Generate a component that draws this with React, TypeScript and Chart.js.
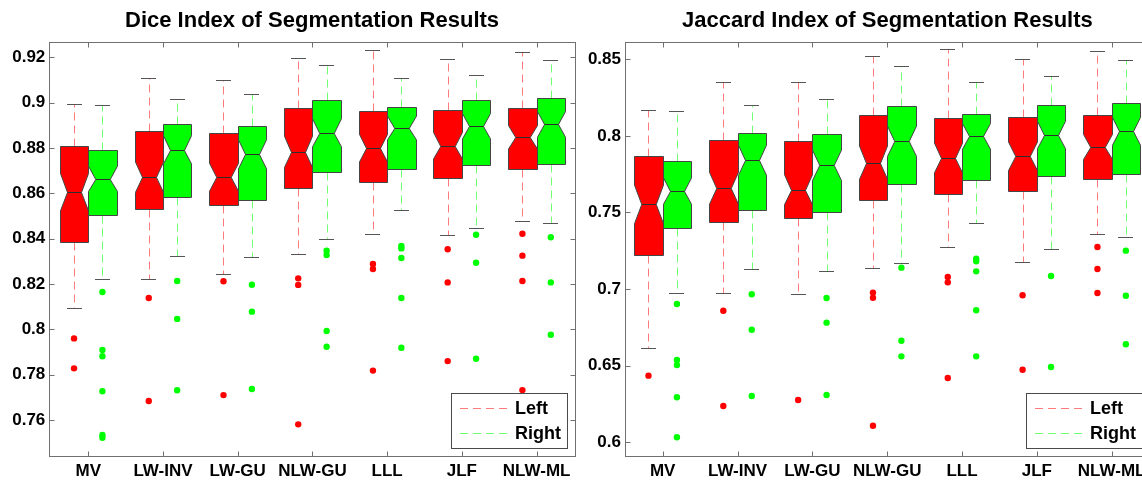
import React, { useEffect, useRef } from "react";
import { Chart, registerables } from "chart.js";

Chart.register(...registerables);

// ---------- data ----------
const categories = ["MV", "LW-INV", "LW-GU", "NLW-GU", "LLL", "JLF", "NLW-ML"];
const seriesNames = ["Left", "Right"];

const diceTicks = [0.76, 0.78, 0.8, 0.82, 0.84, 0.86, 0.88, 0.9, 0.92];
const jaccardTicks = [0.6, 0.65, 0.7, 0.75, 0.8, 0.85];

// Dice – Left
const diceLeftWhiskerHi = [0.8995, 0.9107, 0.9101, 0.9198, 0.9231, 0.9194, 0.9222];
const diceLeftQ3 = [0.8809, 0.8874, 0.8867, 0.8975, 0.8963, 0.8969, 0.8975];
const diceLeftMedian = [0.8605, 0.8671, 0.8671, 0.8783, 0.8799, 0.881, 0.8847];
const diceLeftQ1 = [0.8387, 0.8531, 0.8549, 0.8622, 0.865, 0.8666, 0.8709];
const diceLeftWhiskerLo = [0.8096, 0.8221, 0.8243, 0.8331, 0.8419, 0.8415, 0.8479];
const diceLeftOutliers = [
  [0.796, 0.7828],
  [0.8138, 0.7684],
  [0.8212, 0.771],
  [0.8225, 0.8196, 0.7581],
  [0.8288, 0.8266, 0.7818],
  [0.8353, 0.8207, 0.786],
  [0.8422, 0.8325, 0.8213, 0.7732],
];

// Dice – Right
const diceRightWhiskerHi = [0.899, 0.9017, 0.9038, 0.9167, 0.9107, 0.9123, 0.9189];
const diceRightQ3 = [0.8792, 0.8904, 0.8898, 0.9012, 0.8979, 0.9012, 0.9022];
const diceRightMedian = [0.8664, 0.8792, 0.8772, 0.8867, 0.8888, 0.8896, 0.8904];
const diceRightQ1 = [0.8504, 0.8585, 0.8569, 0.8693, 0.8709, 0.8725, 0.8731];
const diceRightWhiskerLo = [0.8221, 0.8325, 0.8318, 0.8397, 0.8526, 0.8446, 0.8468];
const diceRightOutliers = [
  [0.8165, 0.7909, 0.7881, 0.7727, 0.7534, 0.7522],
  [0.8213, 0.8046, 0.7731],
  [0.8197, 0.8078, 0.7737],
  [0.8347, 0.8328, 0.7993, 0.7923],
  [0.8368, 0.8357, 0.8315, 0.8138, 0.7919],
  [0.8417, 0.8294, 0.787],
  [0.8406, 0.8207, 0.7976],
];

// Jaccard – Left
const jacLeftWhiskerHi = [0.8171, 0.8354, 0.8354, 0.8522, 0.8567, 0.8504, 0.8552];
const jacLeftQ3 = [0.7871, 0.7973, 0.7965, 0.8138, 0.8115, 0.8123, 0.8138];
const jacLeftMedian = [0.7553, 0.7658, 0.7649, 0.7825, 0.7856, 0.7867, 0.7928];
const jacLeftQ1 = [0.7225, 0.7438, 0.7462, 0.758, 0.7619, 0.7642, 0.7717];
const jacLeftWhiskerLo = [0.6618, 0.6977, 0.6968, 0.7136, 0.7273, 0.7177, 0.7358];
const jacLeftOutliers = [
  [0.6435],
  [0.6859, 0.6237],
  [0.6276],
  [0.6977, 0.6944, 0.6108],
  [0.7079, 0.7044, 0.642],
  [0.696, 0.6474],
  [0.7275, 0.7131, 0.6975],
];

// Jaccard – Right
const jacRightWhiskerHi = [0.8163, 0.8204, 0.8243, 0.8458, 0.8352, 0.8391, 0.8495];
const jacRightQ3 = [0.7838, 0.8021, 0.8012, 0.8193, 0.8145, 0.82, 0.8217];
const jacRightMedian = [0.764, 0.7841, 0.7808, 0.7965, 0.7997, 0.8006, 0.803];
const jacRightQ1 = [0.7397, 0.7516, 0.7501, 0.7686, 0.7714, 0.774, 0.7751];
const jacRightWhiskerLo = [0.6977, 0.7129, 0.712, 0.7168, 0.743, 0.7262, 0.7342];
const jacRightOutliers = [
  [0.6903, 0.6537, 0.6505, 0.6294, 0.6033],
  [0.6966, 0.6735, 0.6302],
  [0.6942, 0.6781, 0.6309],
  [0.714, 0.6663, 0.6561],
  [0.7198, 0.7181, 0.7116, 0.6862, 0.6561],
  [0.7086, 0.6492],
  [0.7251, 0.6957, 0.664],
];

// number of subjects per group (used for the notch extent, as MATLAB does)
const sampleSize = 65;

// ---------- styles ----------
const FONT = '"Liberation Sans", Arial, Helvetica, sans-serif';
const BOX_FILL = ["#ff0000", "#00ff00"];
const WHISKER = ["#ff7a7a", "#70ff70"];
const EDGE = "#454545";
const CAP = "#555555";
const FRAME = "#707070";
const GROUP_OFFSET = [-0.19, 0.19];
const BOX_HALF = 0.19;
const CAP_HALF = 0.1;

type Series = {
  hi: number[];
  q3: number[];
  med: number[];
  q1: number[];
  lo: number[];
  out: number[][];
};

type Panel = {
  title: string;
  yTicks: number[];
  yMin: number;
  yMax: number;
  xMin: number;
  xMax: number;
  series: Series[];
  canvasLeft: number;
  canvasWidth: number;
  yWidth: number;
  padRight: number;
};

const panels: Panel[] = [
  {
    title: "Dice Index of Segmentation Results",
    yTicks: diceTicks,
    yMin: 0.74413,
    yMax: 0.92675,
    xMin: 0.479,
    xMax: 7.511,
    series: [
      { hi: diceLeftWhiskerHi, q3: diceLeftQ3, med: diceLeftMedian, q1: diceLeftQ1, lo: diceLeftWhiskerLo, out: diceLeftOutliers },
      { hi: diceRightWhiskerHi, q3: diceRightQ3, med: diceRightMedian, q1: diceRightQ1, lo: diceRightWhiskerLo, out: diceRightOutliers },
    ],
    canvasLeft: 0,
    canvasWidth: 578,
    yWidth: 49.3,
    padRight: 2,
  },
  {
    title: "Jaccard Index of Segmentation Results",
    yTicks: jaccardTicks,
    yMin: 0.59106,
    yMax: 0.86129,
    xMin: 0.496,
    xMax: 7.51,
    series: [
      { hi: jacLeftWhiskerHi, q3: jacLeftQ3, med: jacLeftMedian, q1: jacLeftQ1, lo: jacLeftWhiskerLo, out: jacLeftOutliers },
      { hi: jacRightWhiskerHi, q3: jacRightQ3, med: jacRightMedian, q1: jacRightQ1, lo: jacRightWhiskerLo, out: jacRightOutliers },
    ],
    canvasLeft: 578,
    canvasWidth: 600,
    yWidth: 47,
    padRight: 28.2,
  },
];

const snap = (v: number) => Math.round(v) + 0.5;

function makePlugin(panel: Panel) {
  return {
    id: "notchedBoxes",
    beforeDatasetsDraw(chart: any) {
      const ctx = chart.ctx as CanvasRenderingContext2D;
      const xs = chart.scales.x;
      const ys = chart.scales.y;
      const area = chart.chartArea;
      ctx.save();
      ctx.beginPath();
      ctx.rect(area.left, area.top, area.right - area.left, area.bottom - area.top);
      ctx.clip();
      ctx.lineWidth = 1;
      panel.series.forEach((s, si) => {
        categories.forEach((_, i) => {
          const c = i + 1 + GROUP_OFFSET[si];
          const xc = snap(xs.getPixelForValue(c));
          const xl = snap(xs.getPixelForValue(c - BOX_HALF));
          const xr = snap(xs.getPixelForValue(c + BOX_HALF));
          const inset = (xr - xl) * 0.25;
          const capL = Math.round(xs.getPixelForValue(c - CAP_HALF));
          const capR = Math.round(xs.getPixelForValue(c + CAP_HALF));
          const iqr = s.q3[i] - s.q1[i];
          const notch = (1.57 * iqr) / Math.sqrt(sampleSize);
          const yHi = snap(ys.getPixelForValue(s.hi[i]));
          const yQ3 = snap(ys.getPixelForValue(s.q3[i]));
          const yMed = snap(ys.getPixelForValue(s.med[i]));
          const yQ1 = snap(ys.getPixelForValue(s.q1[i]));
          const yLo = snap(ys.getPixelForValue(s.lo[i]));
          const yNHi = ys.getPixelForValue(s.med[i] + notch);
          const yNLo = ys.getPixelForValue(s.med[i] - notch);

          // whiskers (dashed)
          ctx.setLineDash([8, 5]);
          ctx.strokeStyle = WHISKER[si];
          ctx.beginPath();
          ctx.moveTo(xc, yQ3);
          ctx.lineTo(xc, yHi);
          ctx.moveTo(xc, yQ1);
          ctx.lineTo(xc, yLo);
          ctx.stroke();
          ctx.setLineDash([]);

          // caps
          ctx.strokeStyle = CAP;
          ctx.beginPath();
          ctx.moveTo(capL, yHi);
          ctx.lineTo(capR, yHi);
          ctx.moveTo(capL, yLo);
          ctx.lineTo(capR, yLo);
          ctx.stroke();

          // notched box
          ctx.beginPath();
          ctx.moveTo(xl, yQ1);
          ctx.lineTo(xl, yNLo);
          ctx.lineTo(xl + inset, yMed);
          ctx.lineTo(xl, yNHi);
          ctx.lineTo(xl, yQ3);
          ctx.lineTo(xr, yQ3);
          ctx.lineTo(xr, yNHi);
          ctx.lineTo(xr - inset, yMed);
          ctx.lineTo(xr, yNLo);
          ctx.lineTo(xr, yQ1);
          ctx.closePath();
          ctx.fillStyle = BOX_FILL[si];
          ctx.fill();
          ctx.strokeStyle = EDGE;
          ctx.stroke();

          // median
          ctx.strokeStyle = "#2e2e2e";
          ctx.beginPath();
          ctx.moveTo(xl + inset, yMed);
          ctx.lineTo(xr - inset, yMed);
          ctx.stroke();
        });
      });
      ctx.restore();
    },
    afterDraw(chart: any) {
      const ctx = chart.ctx as CanvasRenderingContext2D;
      const xs = chart.scales.x;
      const ys = chart.scales.y;
      const a = chart.chartArea;
      ctx.save();
      ctx.lineWidth = 1;
      // frame
      ctx.strokeStyle = FRAME;
      const fl = snap(a.left);
      const ft = snap(a.top);
      const fr = snap(a.right);
      const fb = snap(a.bottom);
      ctx.strokeRect(fl, ft, fr - fl, fb - ft);
      // inward ticks
      ctx.beginPath();
      categories.forEach((_, i) => {
        const x = snap(xs.getPixelForValue(i + 1));
        ctx.moveTo(x, ft);
        ctx.lineTo(x, ft + 5);
        ctx.moveTo(x, fb);
        ctx.lineTo(x, fb - 5);
      });
      panel.yTicks.forEach((v) => {
        const y = snap(ys.getPixelForValue(v));
        ctx.moveTo(fl, y);
        ctx.lineTo(fl + 5, y);
        ctx.moveTo(fr, y);
        ctx.lineTo(fr - 5, y);
      });
      ctx.stroke();

      // title
      ctx.fillStyle = "#000";
      ctx.font = `bold 22px ${FONT}`;
      ctx.textAlign = "center";
      ctx.textBaseline = "alphabetic";
      ctx.fillText(panel.title, (a.left + a.right) / 2, 27);

      // legend
      const lw = 116;
      const lh = 55;
      const lx = Math.round(a.right - 7.5 - lw);
      const ly = Math.round(a.bottom - 8 - lh);
      ctx.fillStyle = "#fff";
      ctx.fillRect(lx, ly, lw, lh);
      ctx.strokeStyle = "#4a4a4a";
      ctx.strokeRect(lx + 0.5, ly + 0.5, lw, lh);
      ctx.font = `bold 18px ${FONT}`;
      ctx.textAlign = "left";
      ctx.textBaseline = "middle";
      seriesNames.forEach((name, si) => {
        const yy = snap(ly + 14.5 + si * 25.5);
        ctx.setLineDash([8, 5]);
        ctx.strokeStyle = WHISKER[si];
        ctx.beginPath();
        ctx.moveTo(lx + 9, yy);
        ctx.lineTo(lx + 58, yy);
        ctx.stroke();
        ctx.setLineDash([]);
        ctx.fillStyle = "#000";
        ctx.fillText(name, lx + 64, yy + 1);
      });
      ctx.restore();
    },
  };
}

function PanelChart({ panel }: { panel: Panel }) {
  const ref = useRef<HTMLCanvasElement | null>(null);
  useEffect(() => {
    if (!ref.current) return;
    const datasets = panel.series.map((s, si) => ({
      type: "scatter" as const,
      label: seriesNames[si],
      data: s.out.flatMap((vals, i) => vals.map((v) => ({ x: i + 1 + GROUP_OFFSET[si], y: v }))),
      pointRadius: 3.2,
      pointHoverRadius: 3.2,
      pointBorderWidth: 0,
      backgroundColor: BOX_FILL[si],
      borderColor: BOX_FILL[si],
      showLine: false,
    }));
    const chart = new Chart(ref.current, {
      type: "scatter",
      data: { datasets },
      plugins: [makePlugin(panel)],
      options: {
        animation: false,
        responsive: false,
        devicePixelRatio: 1,
        events: [],
        layout: { padding: { top: 42, right: panel.padRight, left: 0, bottom: 0 } },
        plugins: {
          legend: { display: false },
          title: { display: false },
          tooltip: { enabled: false },
        },
        scales: {
          x: {
            type: "linear",
            min: panel.xMin,
            max: panel.xMax,
            grid: { display: false, drawTicks: false },
            border: { display: false },
            afterBuildTicks: (scale: any) => {
              scale.ticks = categories.map((_, i) => ({ value: i + 1 }));
            },
            afterFit: (scale: any) => {
              scale.height = 24;
            },
            ticks: {
              autoSkip: false,
              maxRotation: 0,
              padding: 5,
              color: "#000",
              font: { family: FONT, size: 17, weight: "bold" },
              callback: (v: any) => categories[Math.round(Number(v)) - 1] ?? "",
            },
          },
          y: {
            type: "linear",
            min: panel.yMin,
            max: panel.yMax,
            grid: { display: false, drawTicks: false },
            border: { display: false },
            afterBuildTicks: (scale: any) => {
              scale.ticks = panel.yTicks.map((v) => ({ value: v }));
            },
            afterFit: (scale: any) => {
              scale.width = panel.yWidth;
            },
            ticks: {
              padding: 4,
              color: "#000",
              font: { family: FONT, size: 17, weight: "bold" },
              callback: (v: any) => String(Number(Number(v).toFixed(2))),
            },
          },
        },
      } as any,
    });
    return () => chart.destroy();
  }, [panel]);
  return (
    <canvas
      ref={ref}
      width={panel.canvasWidth}
      height={480}
      style={{
        position: "absolute",
        left: panel.canvasLeft,
        top: 0,
        width: panel.canvasWidth,
        height: 480,
      }}
    />
  );
}

export default function App() {
  return (
    <div
      style={{
        position: "fixed",
        left: 0,
        top: 0,
        width: 1142,
        height: 480,
        overflow: "hidden",
        background: "#fff",
      }}
    >
      {panels.map((p) => (
        <PanelChart key={p.title} panel={p} />
      ))}
    </div>
  );
}
